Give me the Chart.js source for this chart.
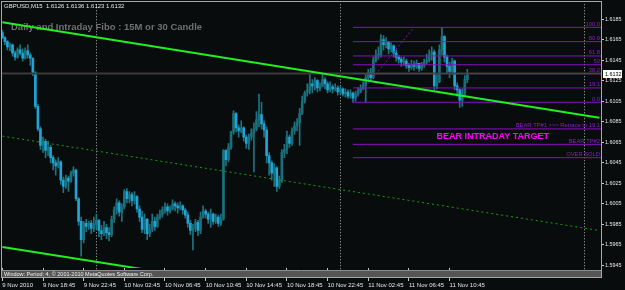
<!DOCTYPE html>
<html>
<head>
<meta charset="utf-8">
<script src="https://cdn.jsdelivr.net/npm/chart.js@4"></script>
<style>
  html, body { margin: 0; padding: 0; background: #080c0c; }
  canvas { display: block; }
</style>
</head>
<body>
<canvas id="chart" width="625" height="290"></canvas>
<script>
// GBPUSD M15, x = bar number counted from 9 Nov 2010 14:45
const symbol = "GBPUSD,M15";
const opens = [
  1.6172,1.6167,1.6163,1.6158,1.6160,1.6152,1.6148,1.6155,1.6152,1.6147,
  1.6154,1.6150,1.6147,1.6133,1.6100,1.6078,1.6062,1.6066,1.6057,1.6060,
  1.6050,1.6045,1.6042,1.6046,1.6028,1.6022,1.6030,1.6027,1.6035,1.6038,
  1.6010,1.5988,1.5970,1.5986,1.5983,1.5986,1.5981,1.5985,1.5989,1.5979,
  1.5976,1.5982,1.5977,1.5975,1.5990,1.5999,1.6006,1.5997,1.6002,1.6017,
  1.6010,1.6014,1.6008,1.6012,1.6000,1.5992,1.5980,1.5990,1.5976,1.5980,
  1.5988,1.5983,1.5992,1.5995,1.5999,1.6002,1.5998,1.6000,1.6005,1.6003,
  1.6001,1.6003,1.5999,1.5994,1.5986,1.5979,1.5981,1.5987,1.5979,1.5992,
  1.5998,1.5995,1.5990,1.5995,1.5988,1.5992,1.5986,1.5990,1.6057,1.6048,
  1.6060,1.6075,1.6093,1.6079,1.6076,1.6079,1.6070,1.6064,1.6070,1.6074,
  1.6078,1.6087,1.6092,1.6083,1.6077,1.6052,1.6045,1.6035,1.6040,1.6022,
  1.6028,1.6055,1.6058,1.6070,1.6064,1.6076,1.6081,1.6084,1.6093,1.6105,
  1.6113,1.6116,1.6122,1.6120,1.6125,1.6118,1.6120,1.6126,1.6122,1.6116,
  1.6119,1.6117,1.6118,1.6114,1.6117,1.6112,1.6114,1.6110,1.6113,1.6108,
  1.6112,1.6115,1.6117,1.6120,1.6128,1.6133,1.6128,1.6145,1.6150,1.6150,
  1.6165,1.6160,1.6163,1.6156,1.6159,1.6152,1.6148,1.6146,1.6143,1.6144,
  1.6140,1.6138,1.6141,1.6139,1.6142,1.6137,1.6140,1.6143,1.6145,1.6150,
  1.6153,1.6120,1.6124,1.6155,1.6168,1.6148,1.6139,1.6134,1.6144,1.6120,
  1.6116,1.6106,1.6113,1.6126
];
const highs = [
  1.6174,1.6168,1.6164,1.6162,1.6161,1.6154,1.6157,1.6160,1.6156,1.6157,
  1.6160,1.6152,1.6147,1.6134,1.6102,1.6080,1.6070,1.6068,1.6066,1.6062,
  1.6052,1.6048,1.6050,1.6047,1.6031,1.6033,1.6032,1.6037,1.6041,1.6039,
  1.6011,1.5992,1.5988,1.5990,1.5988,1.5989,1.5992,1.5995,1.5990,1.5984,
  1.5988,1.5985,1.5982,1.5993,1.6002,1.6010,1.6008,1.6005,1.6019,1.6020,
  1.6017,1.6016,1.6017,1.6013,1.6003,1.5998,1.5995,1.5991,1.5985,1.5995,
  1.5992,1.5995,1.5999,1.6002,1.6006,1.6005,1.6003,1.6009,1.6007,1.6006,
  1.6007,1.6004,1.6001,1.5997,1.5989,1.5985,1.5990,1.5989,1.5997,1.6003,
  1.6000,1.5997,1.6000,1.5996,1.5995,1.5994,1.5995,1.6058,1.6058,1.6064,
  1.6076,1.6096,1.6094,1.6082,1.6086,1.6080,1.6072,1.6073,1.6078,1.6084,
  1.6095,1.6112,1.6104,1.6086,1.6080,1.6055,1.6047,1.6044,1.6041,1.6032,
  1.6058,1.6063,1.6076,1.6072,1.6079,1.6085,1.6088,1.6098,1.6110,1.6115,
  1.6122,1.6131,1.6126,1.6128,1.6126,1.6123,1.6131,1.6128,1.6124,1.6124,
  1.6121,1.6122,1.6120,1.6120,1.6118,1.6117,1.6116,1.6116,1.6114,1.6115,
  1.6118,1.6121,1.6124,1.6132,1.6136,1.6137,1.6148,1.6155,1.6158,1.6170,
  1.6169,1.6167,1.6163,1.6162,1.6160,1.6155,1.6150,1.6148,1.6148,1.6146,
  1.6142,1.6145,1.6144,1.6145,1.6142,1.6143,1.6146,1.6151,1.6155,1.6158,
  1.6155,1.6131,1.6160,1.6177,1.6169,1.6150,1.6143,1.6147,1.6145,1.6123,
  1.6117,1.6117,1.6130,1.6136
];
const lows = [
  1.6166,1.6160,1.6155,1.6154,1.6149,1.6145,1.6147,1.6150,1.6144,1.6146,
  1.6147,1.6140,1.6130,1.6098,1.6076,1.6058,1.6055,1.6050,1.6052,1.6045,
  1.6038,1.6033,1.6040,1.6024,1.6016,1.6020,1.6017,1.6026,1.6032,1.6008,
  1.5984,1.5954,1.5967,1.5978,1.5980,1.5976,1.5978,1.5980,1.5973,1.5970,
  1.5974,1.5971,1.5969,1.5973,1.5987,1.5995,1.5993,1.5988,1.6000,1.6006,
  1.6006,1.6003,1.6005,1.5997,1.5988,1.5977,1.5976,1.5970,1.5973,1.5978,
  1.5979,1.5982,1.5990,1.5992,1.5996,1.5994,1.5996,1.5999,1.5998,1.5996,
  1.5999,1.5995,1.5991,1.5982,1.5975,1.5960,1.5978,1.5974,1.5976,1.5991,
  1.5991,1.5986,1.5982,1.5985,1.5986,1.5983,1.5984,1.5989,1.6042,1.6046,
  1.6058,1.6073,1.6075,1.6070,1.6074,1.6066,1.6059,1.6058,1.6067,1.6036,
  1.6076,1.6080,1.6078,1.6070,1.6045,1.6033,1.6028,1.6022,1.6017,1.6020,
  1.6026,1.6050,1.6054,1.6060,1.6062,1.6073,1.6076,1.6062,1.6092,1.6103,
  1.6110,1.6112,1.6113,1.6116,1.6114,1.6115,1.6119,1.6117,1.6113,1.6114,
  1.6113,1.6115,1.6111,1.6112,1.6110,1.6109,1.6108,1.6108,1.6104,1.6105,
  1.6110,1.6113,1.6116,1.6104,1.6126,1.6125,1.6127,1.6143,1.6146,1.6148,
  1.6155,1.6157,1.6151,1.6153,1.6148,1.6144,1.6142,1.6139,1.6140,1.6137,
  1.6134,1.6136,1.6135,1.6137,1.6134,1.6135,1.6138,1.6141,1.6143,1.6145,
  1.6116,1.6117,1.6123,1.6150,1.6143,1.6132,1.6128,1.6131,1.6116,1.6110,
  1.6099,1.6100,1.6110,1.6123
];
const closes = [
  1.6167,1.6163,1.6158,1.6160,1.6152,1.6148,1.6155,1.6152,1.6147,1.6154,
  1.6150,1.6147,1.6133,1.6100,1.6078,1.6062,1.6066,1.6057,1.6060,1.6050,
  1.6045,1.6042,1.6046,1.6028,1.6022,1.6030,1.6027,1.6035,1.6038,1.6010,
  1.5988,1.5970,1.5986,1.5983,1.5986,1.5981,1.5985,1.5989,1.5979,1.5976,
  1.5982,1.5977,1.5975,1.5990,1.5999,1.6006,1.5997,1.6002,1.6017,1.6010,
  1.6014,1.6008,1.6012,1.6000,1.5992,1.5980,1.5990,1.5976,1.5980,1.5988,
  1.5983,1.5992,1.5995,1.5999,1.6002,1.5998,1.6000,1.6005,1.6003,1.6001,
  1.6003,1.5999,1.5994,1.5986,1.5979,1.5981,1.5987,1.5979,1.5992,1.5998,
  1.5995,1.5990,1.5995,1.5988,1.5992,1.5986,1.5990,1.6057,1.6048,1.6060,
  1.6075,1.6093,1.6079,1.6076,1.6079,1.6070,1.6064,1.6070,1.6074,1.6078,
  1.6087,1.6092,1.6083,1.6077,1.6052,1.6045,1.6035,1.6040,1.6022,1.6028,
  1.6055,1.6058,1.6070,1.6064,1.6076,1.6081,1.6084,1.6093,1.6105,1.6113,
  1.6116,1.6122,1.6120,1.6125,1.6118,1.6120,1.6126,1.6122,1.6116,1.6119,
  1.6117,1.6118,1.6114,1.6117,1.6112,1.6114,1.6110,1.6113,1.6108,1.6112,
  1.6115,1.6117,1.6120,1.6128,1.6133,1.6128,1.6145,1.6150,1.6150,1.6165,
  1.6160,1.6163,1.6156,1.6159,1.6152,1.6148,1.6146,1.6143,1.6144,1.6140,
  1.6138,1.6141,1.6139,1.6142,1.6137,1.6140,1.6143,1.6145,1.6150,1.6153,
  1.6120,1.6124,1.6155,1.6168,1.6148,1.6139,1.6134,1.6144,1.6120,1.6116,
  1.6106,1.6113,1.6126,1.6132
];

// axes
const xMin = -0.14, xMax = 235.6;
const yMin = 1.59425, yMax = 1.61995;
const tickBars = [0, 16, 32, 48, 64, 80, 96, 112, 128, 144, 160, 176];
const tickLabels = ["9 Nov 2010", "9 Nov 18:45", "9 Nov 22:45", "10 Nov 02:45", "10 Nov 06:45",
  "10 Nov 10:45", "10 Nov 14:45", "10 Nov 18:45", "10 Nov 22:45", "11 Nov 02:45",
  "11 Nov 06:45", "11 Nov 10:45"];
const priceTicks = [1.5945, 1.5965, 1.5985, 1.6005, 1.6025, 1.6045, 1.6065,
  1.6085, 1.6105, 1.6125, 1.6145, 1.6165, 1.6185];
const daySeparators = [37, 133, 229];

// channel (bar, price at each end)
const channelTop = [[0, 1.6182], [235, 1.6089]];
const channelMid = [[0, 1.6071], [235, 1.5979]];
const channelLow = [[0, 1.5963], [235, 1.5871]];

// fibo
const fiboStart = 138, fiboEnd = 162;
const fiboLow = 1.6104, fiboHigh = 1.6177;
const fiboLevels = [100, 80.9, 61.8, 50, 38.2, 19.1, 0];
const fiboLabels = ["100.0", "80.9", "61.8", "50", "38.2", "19.1", "0.0"];
const targetPrices = [1.6078, 1.6063, 1.6050];
const targetLabels = ["BEAR TP#1 >>> Retrace to 19.1", "BEAR TP#2", "OVER SOLD"];
const targetText = "BEAR INTRADAY TARGET";
const targetTextAt = [193, 1.6071];

const bullCol = "#1b6f7b";
const bearCol = "#21a3d8";
const wickCol = "#1d7480";
const purple = "#8a10c4";

const last = closes.length - 1;
const fiboPrice = lvl => fiboLow + (fiboHigh - fiboLow) * lvl / 100;
const candleCols = closes.map((c, i) => c >= opens[i] ? bullCol : bearCol);

function lineSet(points, color, width, dash, order) {
  return {
    type: "line",
    data: points.map(p => ({ x: p[0], y: p[1] })),
    borderColor: color,
    borderWidth: width,
    borderDash: dash || [],
    pointRadius: 0,
    tension: 0,
    order: order
  };
}

const hLines = fiboLevels.map(fiboPrice).concat(targetPrices);

const datasets = [
  {
    type: "bar",
    data: highs.map((h, i) => ({ x: i, y: [lows[i], h] })),
    backgroundColor: wickCol,
    barThickness: 1,
    grouped: false,
    order: 20
  },
  {
    type: "bar",
    data: opens.map((o, i) => ({ x: i, y: [o, closes[i]] })),
    backgroundColor: candleCols,
    barThickness: 2,
    minBarLength: 1,
    grouped: false,
    order: 19
  },
  lineSet([[xMin, closes[last]], [xMax, closes[last]]], "#3a3a3a", 2, null, 15),
  ...hLines.map(p => lineSet([[fiboStart, p], [xMax, p]], purple, 1, null, 5)),
  lineSet([[fiboStart, fiboLow], [fiboEnd, fiboHigh]], purple, 1, [2, 2], 4),
  lineSet(channelMid, "#14a014", 1, [2, 3], 3),
  lineSet(channelTop, "#22ee22", 2, null, 2),
  lineSet(channelLow, "#22ee22", 2, null, 2)
];

const chrome = {
  id: "chrome",
  beforeDraw(chart) {
    const ctx = chart.ctx;
    ctx.save();
    ctx.fillStyle = "#080c0c";
    ctx.fillRect(0, 0, chart.width, chart.height);
    ctx.restore();
  },
  beforeDatasetsDraw(chart) {
    const ctx = chart.ctx, a = chart.chartArea, xs = chart.scales.x;
    ctx.save();
    // period separators
    ctx.strokeStyle = "#b4b4b4";
    ctx.lineWidth = 1;
    ctx.setLineDash([1, 2]);
    daySeparators.forEach(b => {
      const x = Math.round(xs.getPixelForValue(b)) + 0.5;
      ctx.beginPath();
      ctx.moveTo(x, a.top);
      ctx.lineTo(x, 277);
      ctx.stroke();
    });
    ctx.setLineDash([]);
    // header + title
    ctx.textBaseline = "middle";
    ctx.fillStyle = "#e6e6e6";
    ctx.font = "6px 'Liberation Sans'";
    const head = symbol + "  " + [opens[last], highs[last], lows[last], closes[last]]
      .map(v => v.toFixed(4)).join(" ");
    ctx.fillText(head, 4, 6);
    ctx.font = "bold 9.5px 'Liberation Sans'";
    ctx.fillStyle = "#707070";
    ctx.fillText("Daily and Intraday Fibo : 15M or 30 Candle", 11, 27.5);
    ctx.restore();
  },
  afterDraw(chart) {
    const ctx = chart.ctx, a = chart.chartArea;
    const xs = chart.scales.x, ys = chart.scales.y;
    ctx.save();
    // fibo and target labels
    ctx.font = "5.8px 'Liberation Sans'";
    ctx.fillStyle = "#9418d0";
    ctx.textAlign = "right";
    ctx.textBaseline = "alphabetic";
    const labels = fiboLabels.concat(targetLabels);
    hLines.forEach((p, i) => {
      ctx.fillText(labels[i], a.right - 1, ys.getPixelForValue(p) - 1.5);
    });
    ctx.font = "bold 9px 'Liberation Sans'";
    ctx.fillStyle = "#ff00ff";
    ctx.textAlign = "center";
    ctx.textBaseline = "middle";
    ctx.fillText(targetText, xs.getPixelForValue(targetTextAt[0]), ys.getPixelForValue(targetTextAt[1]));
    // indicator sub-window strip
    ctx.fillStyle = "#555555";
    ctx.fillRect(2, 271, 599, 6);
    ctx.fillStyle = "#f0f0f0";
    ctx.font = "5.5px 'Liberation Sans'";
    ctx.textAlign = "left";
    ctx.fillText("Window: Period: 4, \u00a9 2001-2010 MetaQuotes Software Corp.", 4, 274);
    ctx.strokeStyle = "#8e8e8e";
    ctx.lineWidth = 1;
    ctx.beginPath();
    ctx.moveTo(2, 270.5); ctx.lineTo(601, 270.5);
    ctx.stroke();
    // frame
    ctx.strokeStyle = "#a8a8a8";
    ctx.strokeRect(1.5, 1.5, 600, 276);
    // current price box
    const py = Math.round(ys.getPixelForValue(closes[last]));
    ctx.fillStyle = "#ffffff";
    ctx.fillRect(603, py - 4, 19, 8);
    ctx.fillStyle = "#000000";
    ctx.font = "5.4px 'Liberation Sans'";
    ctx.fillText(closes[last].toFixed(4), 605, py + 0.5);
    ctx.restore();
  }
};

new Chart(document.getElementById("chart"), {
  type: "bar",
  data: { datasets: datasets },
  plugins: [chrome],
  options: {
    responsive: false,
    animation: false,
    devicePixelRatio: 1,
    layout: { padding: { left: 2, top: 2, right: 0, bottom: 0 } },
    plugins: { legend: { display: false }, tooltip: { enabled: false } },
    scales: {
      x: {
        type: "linear",
        min: xMin,
        max: xMax,
        offset: false,
        grid: { offset: false, drawOnChartArea: false, color: "#c8c8c8", tickLength: 13 },
        border: { display: false },
        afterBuildTicks: s => { s.ticks = tickBars.map(v => ({ value: v })); },
        afterFit: s => { s.height = 22; },
        ticks: {
          autoSkip: false,
          maxRotation: 0,
          align: "start",
          padding: 1,
          color: "#e6e6e6",
          font: { family: "Liberation Sans", size: 6 },
          callback: v => tickLabels[tickBars.indexOf(v)]
        }
      },
      y: {
        type: "linear",
        position: "right",
        min: yMin,
        max: yMax,
        beginAtZero: false,
        grid: { drawOnChartArea: false, color: "#c8c8c8", tickLength: 3 },
        border: { display: false },
        afterBuildTicks: s => { s.ticks = priceTicks.map(v => ({ value: v })); },
        afterFit: s => { s.width = 24; },
        ticks: {
          autoSkip: false,
          padding: 1,
          color: "#e6e6e6",
          font: { family: "Liberation Sans", size: 5.4 },
          callback: v => v.toFixed(4)
        }
      }
    }
  }
});
</script>
</body>
</html>
